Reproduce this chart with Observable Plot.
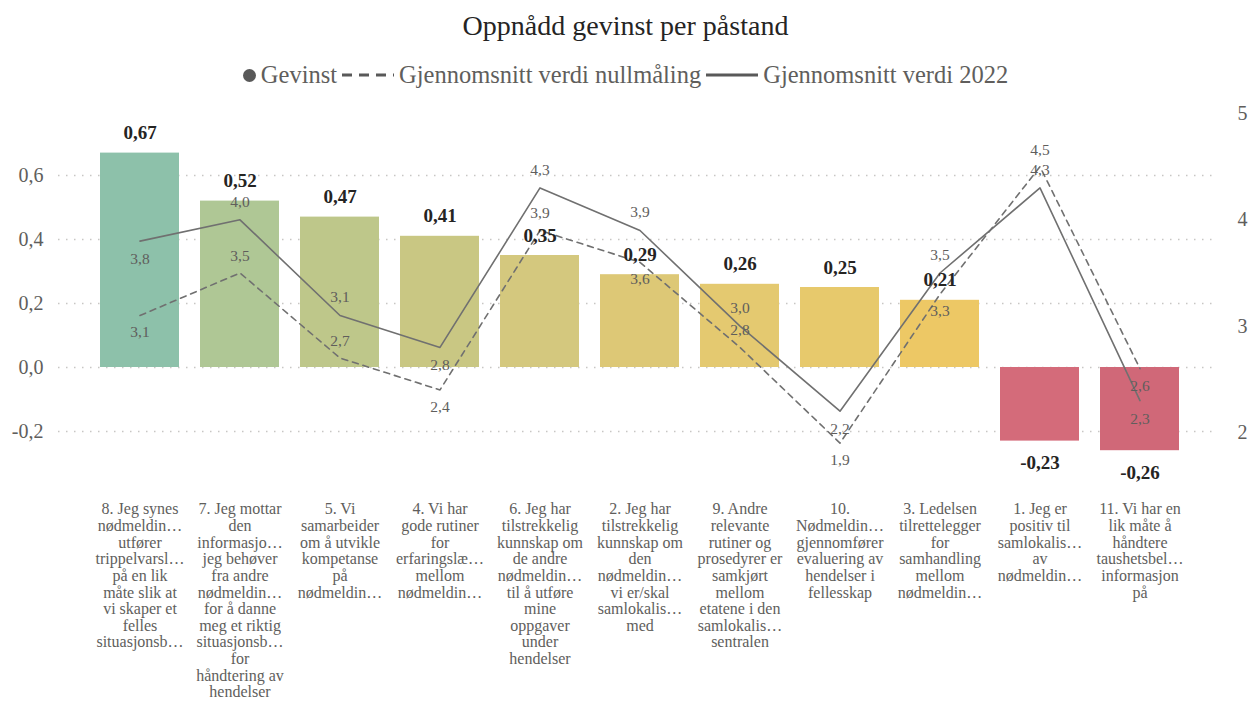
<!DOCTYPE html>
<html>
<head>
<meta charset="utf-8">
<script src="https://cdn.jsdelivr.net/npm/d3@7"></script>
<script src="https://cdn.jsdelivr.net/npm/@observablehq/plot@0.6"></script>
<style>
  html, body { margin: 0; padding: 0; background: #fff; width: 1251px; height: 702px; overflow: hidden; }
  body { font-family: "Liberation Serif", "DejaVu Serif", serif; }
  #title { height: 52px; line-height: 52px; text-align: center; font-size: 28px; color: #252423; }
  #legend { height: 46px; display: flex; align-items: center; justify-content: center; font-size: 24.5px; color: #605E5C; }
  #legend .dot { display: inline-block; width: 13px; height: 13px; border-radius: 50%; background: #595959; margin-right: 5px; }
  #legend svg { margin: 0 5px; }
  #chart svg { display: block; }
</style>
</head>
<body>
<div id="title">Oppnådd gevinst per påstand</div>
<div id="legend"></div>
<div id="chart"></div>
<script>
// ---- data ----
const ids = ["8", "7", "5", "4", "6", "2", "9", "10", "3", "1", "11"];
const categoryLabels = [
  "8. Jeg synes\nnødmeldin…\nutfører\ntrippelvarsl…\npå en lik\nmåte slik at\nvi skaper et\nfelles\nsituasjonsb…",
  "7. Jeg mottar\nden\ninformasjo…\njeg behøver\nfra andre\nnødmeldin…\nfor å danne\nmeg et riktig\nsituasjonsb…\nfor\nhåndtering av\nhendelser",
  "5. Vi\nsamarbeider\nom å utvikle\nkompetanse\npå\nnødmeldin…",
  "4. Vi har\ngode rutiner\nfor\nerfaringslæ…\nmellom\nnødmeldin…",
  "6. Jeg har\ntilstrekkelig\nkunnskap om\nde andre\nnødmeldin…\ntil å utføre\nmine\noppgaver\nunder\nhendelser",
  "2. Jeg har\ntilstrekkelig\nkunnskap om\nden\nnødmeldin…\nvi er/skal\nsamlokalis…\nmed",
  "9. Andre\nrelevante\nrutiner og\nprosedyrer er\nsamkjørt\nmellom\netatene i den\nsamlokalis…\nsentralen",
  "10.\nNødmeldin…\ngjennomfører\nevaluering av\nhendelser i\nfellesskap",
  "3. Ledelsen\ntilrettelegger\nfor\nsamhandling\nmellom\nnødmeldin…",
  "1. Jeg er\npositiv til\nsamlokalis…\nav\nnødmeldin…",
  "11. Vi har en\nlik måte å\nhåndtere\ntaushetsbel…\ninformasjon\npå"
];
const gevinst = [0.67, 0.52, 0.47, 0.41, 0.35, 0.29, 0.26, 0.25, 0.21, -0.23, -0.26];
const nullmaling = [3.1, 3.5, 2.7, 2.4, 3.9, 3.6, 2.8, 1.9, 3.3, 4.5, 2.6];
const verdi2022 = [3.8, 4.0, 3.1, 2.8, 4.3, 3.9, 3.0, 2.2, 3.5, 4.3, 2.3];
const leftTicks = [-0.2, 0, 0.2, 0.4, 0.6];
const rightTicks = [2, 3, 4, 5];

// ---- styling / layout (kept apart from data) ----
const barColors = ["#8DC1AA", "#AFC795", "#BEC78A", "#C9C783", "#D4C87E", "#DDC876", "#E4C970", "#E7C96C", "#EDC865", "#D46B7A", "#D06878"];
const nullSide = [1, -1, -1, 1, -1, 1, -1, 1, 1, -1, 1];   // 1 = label below point, -1 = above
const v22Side  = [1, -1, -1, 1, -1, -1, -1, 1, -1, -1, 1];
const lineColor = "#707070";

const loc = d3.formatLocale({decimal: ",", thousands: " ", grouping: [3], currency: ["", " kr"], minus: "-"});
const f1 = loc.format(".1f");
const f2 = loc.format(".2f");

// secondary (right) axis mapped onto the primary (left) scale
const leftDomain = [-0.3, 0.8];
const rightToLeft = d3.scaleLinear().domain([1.708, 5.019]).range(leftDomain);

const rows = ids.map((id, i) => ({
  id,
  label: categoryLabels[i],
  gain: gevinst[i],
  color: barColors[i],
  nullV: nullmaling[i],
  v22: verdi2022[i],
  nullL: rightToLeft(nullmaling[i]),
  v22L: rightToLeft(verdi2022[i]),
  nullSide: nullSide[i],
  v22Side: v22Side[i]
}));

const pos = rows.filter(d => d.gain >= 0);
const neg = rows.filter(d => d.gain < 0);

const chart = Plot.plot({
  width: 1251,
  height: 604,
  marginLeft: 78,
  marginRight: 51,
  marginTop: 13,
  marginBottom: 239,
  style: {fontFamily: "'Liberation Serif', serif", color: "#605E5C", background: "#fff"},
  x: {domain: ids, padding: 0.21, axis: null},
  y: {domain: leftDomain, axis: null},
  marks: [
    Plot.ruleY(leftTicks, {stroke: "#C8C6C4", strokeWidth: 1.5, strokeDasharray: "1.5,6.5", insetLeft: -20, insetRight: -15}),
    Plot.axisY(leftTicks, {anchor: "left", tickSize: 0, tickPadding: 35, fontSize: 20, tickFormat: f1}),
    Plot.axisY(rightTicks.map(rightToLeft), {anchor: "right", tickSize: 0, tickPadding: 37, fontSize: 20,
      tickFormat: d => String(Math.round(rightToLeft.invert(d)))}),
    Plot.barY(rows, {x: "id", y: "gain", fill: "color"}),
    Plot.line(rows, {x: "id", y: "nullL", stroke: lineColor, strokeWidth: 1.6, strokeDasharray: "6,5"}),
    Plot.line(rows, {x: "id", y: "v22L", stroke: lineColor, strokeWidth: 1.6}),
    // line labels
    ...[-1, 1].map(s => Plot.text(rows.filter(d => d.nullSide === s), {x: "id", y: "nullL", text: d => f1(d.nullV), dy: 17 * s, fontSize: 15.5, fill: "#605E5C"})),
    ...[-1, 1].map(s => Plot.text(rows.filter(d => d.v22Side === s), {x: "id", y: "v22L", text: d => f1(d.v22), dy: 18 * s, fontSize: 15.5, fill: "#605E5C"})),
    // bar labels
    Plot.text(pos, {x: "id", y: "gain", text: d => f2(d.gain), dy: -20, fontSize: 19, fontWeight: "bold", fill: "#252423"}),
    Plot.text(neg, {x: "id", y: "gain", text: d => f2(d.gain), dy: 22, fontSize: 19, fontWeight: "bold", fill: "#252423"}),
    // category labels
    Plot.text(rows, {x: "id", text: "label", frameAnchor: "bottom", lineAnchor: "top", dy: 39, fontSize: 16, lineHeight: 1.04, fill: "#605E5C"})
  ]
});
document.getElementById("chart").appendChild(chart);

// legend
const legendItems = [
  {name: "Gevinst", kind: "dot"},
  {name: "Gjennomsnitt verdi nullmåling", kind: "dash"},
  {name: "Gjennomsnitt verdi 2022", kind: "solid"}
];
const lg = document.getElementById("legend");
legendItems.forEach(it => {
  if (it.kind === "dot") {
    const s = document.createElement("span"); s.className = "dot"; lg.appendChild(s);
  } else {
    const ns = "http://www.w3.org/2000/svg";
    const svg = document.createElementNS(ns, "svg");
    svg.setAttribute("width", "52"); svg.setAttribute("height", "10");
    const l = document.createElementNS(ns, "line");
    l.setAttribute("x1", "0"); l.setAttribute("x2", "52"); l.setAttribute("y1", "5"); l.setAttribute("y2", "5");
    l.setAttribute("stroke", "#595959"); l.setAttribute("stroke-width", "3");
    if (it.kind === "dash") l.setAttribute("stroke-dasharray", "10,7");
    svg.appendChild(l); lg.appendChild(svg);
  }
  const t = document.createElement("span"); t.textContent = it.name; lg.appendChild(t);
});
</script>
</body>
</html>
